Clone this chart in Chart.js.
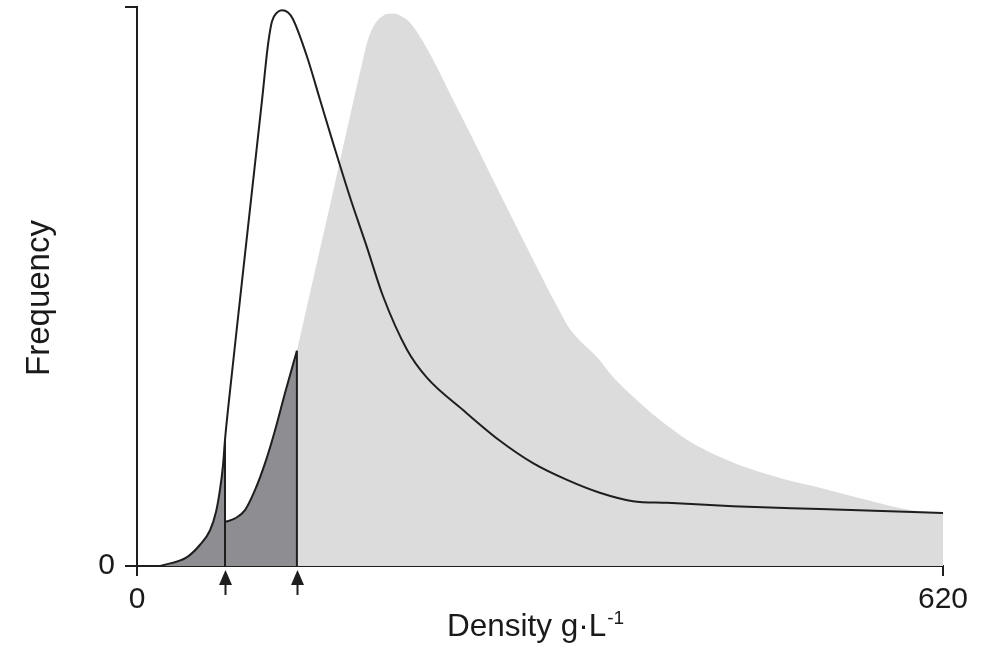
<!DOCTYPE html>
<html>
<head>
<meta charset="utf-8">
<script src="https://cdn.jsdelivr.net/npm/chart.js@4/dist/chart.umd.min.js"></script>
<style>
  html, body { margin: 0; padding: 0; background: #fff; }
  #wrap { width: 992px; height: 645px; }
</style>
</head>
<body>
<div id="wrap"><canvas id="densityChart" width="992" height="645"></canvas></div>
<script>
// curva preta (distribuição da esquerda)
var blackX = [18, 38.5, 48.5, 56.2, 60.8, 63.8, 66.2, 67.7, 70.8, 79.2, 87.7, 96.2, 100.8, 103.8, 107.7, 111.5, 116.2, 120, 130.8, 140.8, 150.8, 163.8, 176.9, 189.2, 207.7, 223, 250.8, 279.2, 304.6, 330.8, 356, 381.5, 407.7, 458.5, 525.4, 620];
var blackY = [0, 1.6, 3.8, 6.4, 9.7, 13.6, 18.1, 22.6, 29.7, 47.6, 65.5, 83.4, 93.3, 97.4, 99.0, 99.4, 99.0, 97.8, 91.1, 83.4, 75.7, 66.0, 57.0, 48.3, 38.7, 33.7, 27.9, 22.4, 18.4, 15.4, 13.1, 11.6, 11.3, 10.7, 10.2, 9.5];

// curva cinza (distribuição da direita)
var grayX = [67.7, 75.4, 83.1, 90.8, 98.5, 106.2, 113.8, 123, 133.1, 148.5, 163.8, 173.1, 177.7, 183.1, 188.5, 193.1, 198.5, 203.8, 210, 217.7, 227.7, 240.8, 256.2, 271.5, 286.9, 302.3, 320, 325.4, 332.3, 340.8, 353.8, 366.2, 381.5, 402.3, 423.1, 448.5, 473.8, 500, 525.4, 561.5, 594.6, 620];
var grayY = [7.9, 8.5, 10.0, 13.6, 18.4, 24.3, 30.9, 38.5, 48.9, 64.6, 80.4, 89.9, 94.2, 97.0, 98.3, 98.8, 98.8, 98.3, 97.2, 94.7, 90.6, 84.5, 77.4, 70.2, 63.0, 55.9, 47.8, 45.5, 42.6, 40.3, 37.4, 33.8, 30.3, 26.1, 22.6, 19.5, 17.2, 15.4, 14.0, 11.8, 10.0, 9.5];

// limites marcados pelas setas
var cutoffs = [67.7, 123];

// eixos
var xTicks = [0, 620];
var yTicks = [0, 100];

function pontos(xs, ys, de, ate) {
    var out = [];
    for (var i = 0; i < xs.length; i++) {
        if (xs[i] >= de && xs[i] <= ate) out.push({ x: xs[i], y: ys[i] });
    }
    return out;
}
function valorEm(xs, ys, v) {
    return ys[xs.indexOf(v)];
}

var linhaCor = '#1e1e1e';
var fonte = 'Liberation Sans, Arial, sans-serif';

// setas e títulos dos eixos
var extras = {
    id: 'extras',
    afterDraw: function(chart) {
        var ctx = chart.ctx;
        var xs = chart.scales.x;
        var area = chart.chartArea;
        ctx.save();
        ctx.fillStyle = linhaCor;
        ctx.strokeStyle = linhaCor;
        ctx.lineWidth = 2;
        cutoffs.forEach(function(c) {
            var px = Math.round(xs.getPixelForValue(c)) + 0.5;
            ctx.beginPath();
            ctx.moveTo(px, area.bottom + 4);
            ctx.lineTo(px - 6.5, area.bottom + 19);
            ctx.lineTo(px + 6.5, area.bottom + 19);
            ctx.closePath();
            ctx.fill();
            ctx.beginPath();
            ctx.moveTo(px, area.bottom + 18);
            ctx.lineTo(px, area.bottom + 29);
            ctx.stroke();
        });

        ctx.fillStyle = '#1a1a1a';
        ctx.textBaseline = 'alphabetic';
        // título y
        ctx.save();
        ctx.translate(49, 298);
        ctx.rotate(-Math.PI / 2);
        ctx.font = '33px ' + fonte;
        ctx.textAlign = 'center';
        ctx.fillText('Frequency', 0, 0);
        ctx.restore();
        // título x com expoente
        ctx.font = '31.5px ' + fonte;
        var base = 'Density g\u00B7L';
        var w1 = ctx.measureText(base).width;
        ctx.font = '19px ' + fonte;
        var w2 = ctx.measureText('-1').width;
        var x0 = 535 - (w1 + w2) / 2;
        ctx.textAlign = 'left';
        ctx.font = '31.5px ' + fonte;
        ctx.fillText(base, x0, 636);
        ctx.font = '19px ' + fonte;
        ctx.fillText('-1', x0 + w1 + 1, 624);
        ctx.restore();
    }
};

var ctxDens = document.getElementById('densityChart').getContext('2d');
new Chart(ctxDens, {
    type: 'line',
    data: {
        datasets: [
            {
                // curva preta
                data: pontos(blackX, blackY, 0, 620),
                borderColor: linhaCor,
                borderWidth: 2,
                pointRadius: 0,
                fill: false,
                cubicInterpolationMode: 'monotone',
                order: 0
            },
            {
                data: [{ x: cutoffs[0], y: 0 }, { x: cutoffs[0], y: valorEm(blackX, blackY, cutoffs[0]) }],
                borderColor: linhaCor,
                borderWidth: 2,
                pointRadius: 0,
                fill: false,
                order: 1
            },
            {
                data: [{ x: cutoffs[1], y: 0 }, { x: cutoffs[1], y: valorEm(grayX, grayY, cutoffs[1]) }],
                borderColor: linhaCor,
                borderWidth: 2,
                pointRadius: 0,
                fill: false,
                order: 1
            },
            {
                // área escura sob a curva preta
                data: pontos(blackX, blackY, 0, cutoffs[0]),
                borderWidth: 0,
                borderColor: 'rgba(0,0,0,0)',
                backgroundColor: '#8d8d92',
                pointRadius: 0,
                fill: 'origin',
                cubicInterpolationMode: 'monotone',
                order: 2
            },
            {
                // área escura sob a curva cinza
                data: pontos(grayX, grayY, cutoffs[0], cutoffs[1]),
                borderColor: linhaCor,
                borderWidth: 2,
                backgroundColor: '#8d8d92',
                pointRadius: 0,
                fill: 'origin',
                cubicInterpolationMode: 'monotone',
                order: 2
            },
            {
                // área clara
                data: pontos(grayX, grayY, cutoffs[1], 620),
                borderWidth: 0,
                borderColor: 'rgba(0,0,0,0)',
                backgroundColor: '#dcdcdc',
                pointRadius: 0,
                fill: 'origin',
                cubicInterpolationMode: 'monotone',
                order: 3
            }
        ]
    },
    options: {
        responsive: false,
        animation: false,
        layout: { padding: { top: 7, right: 49, left: 0, bottom: 0 } },
        plugins: {
            legend: { display: false },
            tooltip: { enabled: false }
        },
        scales: {
            x: {
                type: 'linear',
                min: 0,
                max: 620,
                afterBuildTicks: function(s) { s.ticks = xTicks.map(function(v) { return { value: v }; }); },
                afterFit: function(s) { s.height = 79; s.paddingLeft = 0; s.paddingRight = 0; },
                ticks: {
                    autoSkip: false,
                    maxRotation: 0,
                    padding: 6,
                    color: '#1a1a1a',
                    font: { family: fonte, size: 30 }
                },
                grid: { drawOnChartArea: false, tickLength: 10, color: linhaCor, lineWidth: 2 },
                border: { color: linhaCor, width: 2 }
            },
            y: {
                min: 0,
                max: 100,
                afterBuildTicks: function(s) { s.ticks = yTicks.map(function(v) { return { value: v }; }); },
                afterFit: function(s) { s.width = 137; s.paddingTop = 0; s.paddingBottom = 0; },
                ticks: {
                    padding: 10,
                    color: '#1a1a1a',
                    font: { family: fonte, size: 30 },
                    callback: function(v) { return v === 0 ? '0' : ''; }
                },
                grid: { drawOnChartArea: false, tickLength: 12, color: linhaCor, lineWidth: 2 },
                border: { color: linhaCor, width: 2 }
            }
        }
    },
    plugins: [extras]
});
</script>
</body>
</html>
